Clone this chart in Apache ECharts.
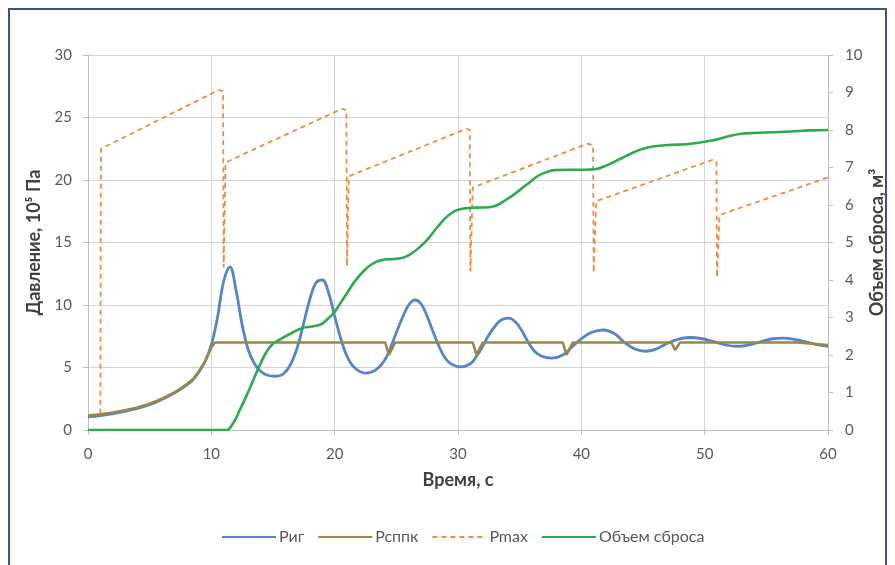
<!DOCTYPE html>
<html>
<head>
<meta charset="utf-8">
<script src="https://cdn.jsdelivr.net/npm/echarts@6/dist/echarts.min.js"></script>
<style>html,body{margin:0;padding:0;background:#fff}#c{width:895px;height:565px}</style>
</head>
<body>
<div id="c"></div>
<script>
// ---- data ----
const seriesNames = ['Риг', 'Рсппк', 'Pmax', 'Объем сброса'];
const xTicks = [0, 10, 20, 30, 40, 50, 60];

const tPig = [0,1,2,3,4,5,6,7,8,8.5,9,9.5,10,10.5,11,11.5,12,12.5,13,13.5,14,14.5,15.2,15.8,16.4,17,17.5,18,18.5,19,19.5,20,20.5,21,21.6,22.5,23.4,24,24.5,25,25.5,26,26.5,27,27.5,28,28.5,29,29.5,30.2,31,31.5,32,32.5,33,33.5,34.1,34.7,35.2,35.7,36.2,36.8,37.6,38.5,39.2,40,40.8,41.8,42.7,43.5,44.3,45.2,46,46.8,47.8,48.8,49.8,50.8,51.7,52.6,53.5,54.5,55.5,56.4,57.3,58.2,59,60];
const pig  = [1.05,1.15,1.3,1.48,1.72,2.02,2.45,2.95,3.6,4.0,4.65,5.5,6.8,9.0,11.9,13.05,11.2,8.4,6.4,5.3,4.7,4.4,4.3,4.45,5.2,6.7,8.6,10.5,11.8,12.0,11.0,9.1,7.3,5.9,5.0,4.55,4.85,5.5,6.5,7.8,9.0,10.0,10.4,10.1,9.1,7.8,6.6,5.7,5.25,5.05,5.3,5.9,6.7,7.6,8.3,8.8,8.95,8.6,7.9,7.0,6.3,5.9,5.75,6.0,6.6,7.3,7.8,8.0,7.7,7.0,6.5,6.3,6.45,6.85,7.25,7.4,7.3,7.05,6.8,6.7,6.8,7.05,7.3,7.35,7.25,7.05,6.85,6.7];

const tSppk = [0,1,2,3,4,5,6,7,8,8.5,9,9.5,10,10.3,24.1,24.4,24.9,31.2,31.5,32.0,38.5,38.8,39.3,47.3,47.6,48.0,57.5,60];
const sppk  = [1.15,1.25,1.4,1.58,1.8,2.1,2.5,3.0,3.65,4.05,4.7,5.5,6.6,7.0,7.0,6.0,7.0,7.0,6.0,7.0,7.0,6.0,7.0,7.0,6.4,7.0,7.0,6.8];

const tPmax = [1.0,1.05,10.6,10.95,11.0,11.15,20.6,20.95,21.0,21.15,30.7,30.95,31.0,31.2,40.5,40.95,41.0,41.2,50.6,50.95,51.0,51.2,60];
const pmax  = [1.3,22.5,27.2,27.1,13.0,21.4,25.7,25.6,13.1,20.3,24.1,24.0,12.7,19.4,22.9,22.8,12.6,18.3,21.6,21.5,12.2,17.2,20.2];

const tVol = [0,11.2,11.8,12.3,12.9,13.4,14,14.5,15,15.6,16.6,17.4,18.2,18.9,19.5,20,20.5,21,21.6,22.3,23,23.8,24.8,25.6,26.2,26.8,27.5,28.3,29.1,29.8,30.5,31.5,32.5,33.2,33.8,34.5,35.2,35.8,36.5,37.2,37.8,39,40.2,41.2,42,43.1,44.2,45,45.8,47,48.5,49.5,50.2,51,52,53,54,55.5,57,58.5,60];
const vol  = [0,0,0.2,0.53,0.95,1.33,1.78,2.1,2.3,2.42,2.6,2.72,2.76,2.82,2.98,3.15,3.4,3.65,3.95,4.22,4.42,4.53,4.56,4.6,4.7,4.85,5.07,5.4,5.69,5.85,5.91,5.93,5.94,6.0,6.12,6.27,6.45,6.6,6.78,6.88,6.93,6.94,6.94,6.96,7.05,7.22,7.4,7.5,7.56,7.6,7.62,7.66,7.7,7.75,7.84,7.9,7.92,7.94,7.96,7.99,8.0];

const pair = (t, v) => t.map((x, i) => [x, v[i]]);

const chart = echarts.init(document.getElementById('c'), null, {renderer: 'canvas'});
const labelColor = '#595959';
const gridColor = '#d4d4d4';
const font = 'Lato, "Open Sans", sans-serif';
const titleStyle = {color: '#404040', fontWeight: 'bold', fontSize: 18, fontFamily: font};

chart.setOption({
  animation: false,
  textStyle: {fontFamily: font},
  graphic: [{
    type: 'rect', silent: true, z: 100,
    shape: {x: 9, y: 9, width: 877, height: 600},
    style: {fill: 'none', stroke: '#34548a', lineWidth: 2}
  }],
  grid: {left: 88, right: 67, top: 55, bottom: 135, containLabel: false, outerBoundsMode: 'none'},
  legend: {
    left: 216, top: 524,
    itemWidth: 54, itemHeight: 14, itemGap: 13,
    itemStyle: {opacity: 0},
    textStyle: {color: labelColor, fontSize: 16, fontFamily: font, padding: [0, 0, 0, -2]},
    data: seriesNames
  },
  xAxis: {
    type: 'value', min: 0, max: 60, interval: 10,
    name: 'Время, с', nameLocation: 'middle', nameGap: 41, nameMoveOverlap: false,
    nameTextStyle: titleStyle,
    axisLine: {show: true, lineStyle: {color: '#bfbfbf', width: 1}},
    axisTick: {show: true, length: 5, lineStyle: {color: '#bfbfbf'}},
    axisLabel: {color: labelColor, fontSize: 15, margin: 17, formatter: v => xTicks.includes(v) ? String(v) : ''},
    splitLine: {show: true, lineStyle: {color: gridColor, width: 1}}
  },
  yAxis: [{
    type: 'value', min: 0, max: 30, interval: 5, position: 'left',
    name: 'Давление, 10⁵ Па', nameLocation: 'middle', nameGap: 45, nameRotate: 90, nameMoveOverlap: false,
    nameTextStyle: titleStyle,
    axisLine: {show: true, lineStyle: {color: '#bfbfbf', width: 1}},
    axisTick: {show: true, length: 5, lineStyle: {color: '#bfbfbf'}},
    axisLabel: {color: labelColor, fontSize: 15, margin: 16},
    splitLine: {show: true, lineStyle: {color: gridColor, width: 1}}
  }, {
    type: 'value', min: 0, max: 10, interval: 1, position: 'right',
    name: 'Объем сброса, м³', nameLocation: 'middle', nameGap: 40, nameRotate: 90, nameMoveOverlap: false,
    nameTextStyle: titleStyle,
    axisLine: {show: true, lineStyle: {color: '#bfbfbf', width: 1}},
    axisTick: {show: true, length: 5, lineStyle: {color: '#bfbfbf'}},
    axisLabel: {color: labelColor, fontSize: 15, margin: 17},
    splitLine: {show: false}
  }],
  series: [{
    name: seriesNames[2], type: 'line', yAxisIndex: 0, data: pair(tPmax, pmax),
    symbol: 'none', showSymbol: false, z: 2,
    lineStyle: {color: '#ee8a43', width: 1.8, type: [5, 4]}, itemStyle: {color: '#ee8a43'}
  }, {
    name: seriesNames[0], type: 'line', yAxisIndex: 0, data: pair(tPig, pig),
    symbol: 'none', showSymbol: false, smooth: 0.4, z: 3,
    lineStyle: {color: '#5585c5', width: 2.8}, itemStyle: {color: '#5585c5'}
  }, {
    name: seriesNames[1], type: 'line', yAxisIndex: 0, data: pair(tSppk, sppk),
    symbol: 'none', showSymbol: false, z: 4,
    lineStyle: {color: '#9a8748', width: 2.6}, itemStyle: {color: '#9a8748'}
  }, {
    name: seriesNames[3], type: 'line', yAxisIndex: 1, data: pair(tVol, vol),
    symbol: 'none', showSymbol: false, smooth: 0.4, z: 5,
    lineStyle: {color: '#2eaa4c', width: 2.6}, itemStyle: {color: '#2eaa4c'}
  }]
});
</script>
</body>
</html>
